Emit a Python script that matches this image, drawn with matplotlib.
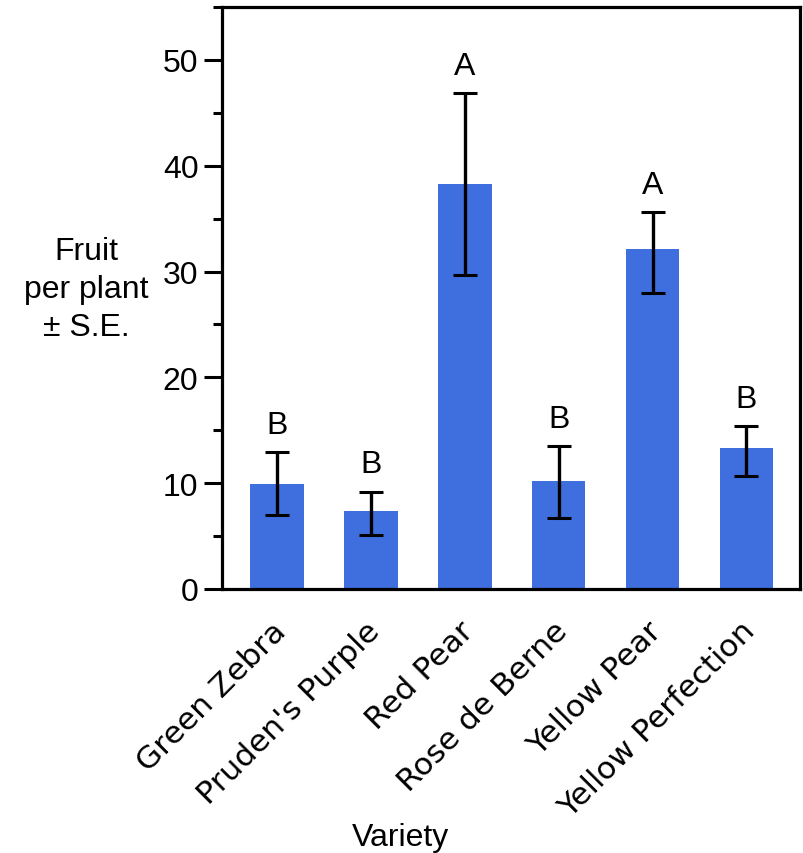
import matplotlib
matplotlib.use("Agg")
import matplotlib.pyplot as plt
from matplotlib.ticker import MultipleLocator
from matplotlib.transforms import ScaledTranslation

varieties = ["Green Zebra", "Pruden's Purple", "Red Pear", "Rose de Berne",
             "Yellow Pear", "Yellow Perfection"]
means = [9.9, 7.4, 38.3, 10.2, 32.1, 13.3]
err_low = [7.0, 5.1, 29.7, 6.7, 28.0, 10.65]
err_high = [12.9, 9.2, 46.85, 13.5, 35.6, 15.4]
letters = ["B", "B", "A", "B", "A", "B"]

plt.rcParams['font.family'] = ['Liberation Sans', 'DejaVu Sans']
FS = 23

fig = plt.figure(figsize=(8.04, 8.54), dpi=100)
ax = fig.add_axes([222/804, (854-590)/854, (800-222)/804, (590-8)/854])

x = list(range(len(varieties)))
yerr = [[m - l for m, l in zip(means, err_low)],
        [h - m for m, h in zip(means, err_high)]]
ax.bar(x, means, width=0.57, color='#3F6FDF', zorder=2)
ax.errorbar(x, means, yerr=yerr, fmt='none', ecolor='black', elinewidth=2.4,
            capsize=8.6, capthick=2.2, zorder=3)
for xi, h, t in zip(x, err_high, letters):
    ax.annotate(t, xy=(xi, h), xytext=(0, 14), textcoords='offset points',
                ha='center', va='baseline', fontsize=FS)

ax.set_xlim(-0.585, 5.57)
ax.set_ylim(0, 55)
ax.yaxis.set_major_locator(MultipleLocator(10))
ax.yaxis.set_minor_locator(MultipleLocator(5))
ax.tick_params(axis='y', which='major', direction='out', length=13, width=2.2,
               labelsize=FS, pad=4)
ax.tick_params(axis='y', which='minor', direction='out', length=6.5, width=2.2)
ax.tick_params(axis='x', length=0, pad=10)
ax.set_xticks(x)
ax.set_xticklabels(varieties, rotation=45, ha='right', rotation_mode='anchor',
                   fontsize=22.5, fontfamily='DejaVu Sans')
offset = ScaledTranslation(-0.06, -0.13, fig.dpi_scale_trans)
for lab in ax.get_xticklabels():
    lab.set_transform(lab.get_transform() + offset)
for s in ax.spines.values():
    s.set_linewidth(2.3)

fig.text(86/804, (854-290)/854, "Fruit\nper plant\n± S.E.", ha='center',
         va='center', fontsize=FS, linespacing=1.33)
fig.text(400/804, (854-838)/854, "Variety", ha='center', va='center', fontsize=FS)

fig.savefig("out.png", dpi=100)
